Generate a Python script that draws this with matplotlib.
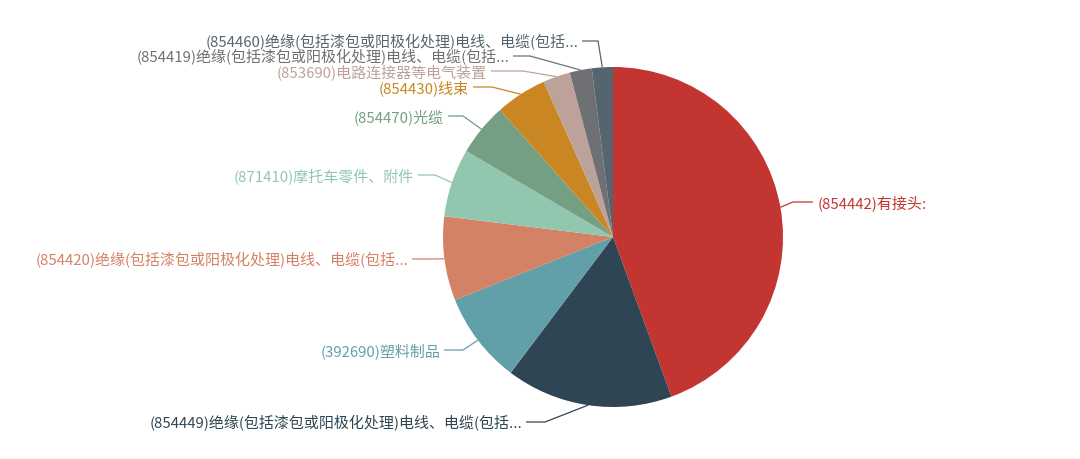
import numpy as np
import matplotlib.pyplot as plt

plt.rcParams['font.family'] = ['Noto Sans CJK SC', 'DejaVu Sans']

# 数据（按饼图顺时针顺序）
labels = [
    "(854442)有接头:",
    "(854449)绝缘(包括漆包或阳极化处理)电线、电缆(包括...",
    "(392690)塑料制品",
    "(854420)绝缘(包括漆包或阳极化处理)电线、电缆(包括...",
    "(871410)摩托车零件、附件",
    "(854470)光缆",
    "(854430)线束",
    "(853690)电路连接器等电气装置",
    "(854419)绝缘(包括漆包或阳极化处理)电线、电缆(包括...",
    "(854460)绝缘(包括漆包或阳极化处理)电线、电缆(包括...",
]
values = [44.5, 15.9, 8.7, 8.0, 6.5, 5.0, 4.9, 2.6, 2.1, 2.0]
colors = ["#c23531", "#2f4554", "#61a0a8", "#d48265", "#91c7ae",
          "#749f83", "#ca8622", "#bda29a", "#6e7074", "#546570"]

# 标签布局（像素，y 从上往下）
label_y = [203, 423, 351, 260, 176, 117, 88, 72, 57, 42]
elbow_x = [793, 545, 463, 433, 435, 463, 492, 523, 530, 598]
text_x = [818, 522, 440, 408, 414, 444, 469, 487, 509, 578]

W, H = 1080, 460
cx, cy, r = 613, 238, 170

fig = plt.figure(figsize=(W / 100, H / 100), dpi=100)
ax = fig.add_axes([0, 0, 1, 1])
ax.pie(values, colors=colors, startangle=90, counterclock=False,
       center=(cx, H - cy), radius=r, wedgeprops=dict(linewidth=0))
ax.set_xlim(0, W)
ax.set_ylim(0, H)
ax.set_aspect('equal')
ax.axis('off')

total = sum(values)
start = 0.0
for lab, v, c, ly, ex, tx in zip(labels, values, colors, label_y, elbow_x, text_x):
    mid = np.radians((start + v / 2) / total * 360)
    start += v
    px = cx + r * np.sin(mid)
    py = cy - r * np.cos(mid)
    right = np.sin(mid) > 0
    end = tx - 5 if right else tx + 4
    ax.plot([px, ex, end], [H - py, H - ly, H - ly], color=c, lw=0.9,
            solid_capstyle='butt')
    ax.text(tx, H - ly, lab, color=c, fontsize=10.8, va='center',
            ha='left' if right else 'right')

plt.savefig("out.png", dpi=100)
